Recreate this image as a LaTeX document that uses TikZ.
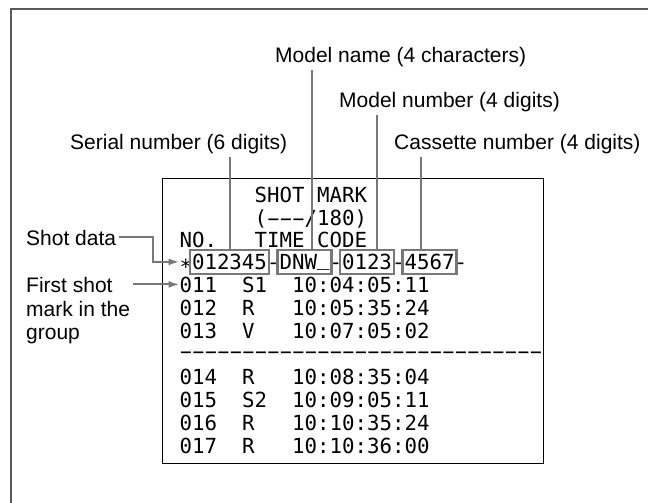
\documentclass[tikz,border=0pt]{standalone}
\usepackage{fontspec}
\setmainfont{Liberation Sans}
\setmonofont{DejaVu Sans Mono}
\usetikzlibrary{arrows.meta,positioning,calc}
\definecolor{Frame}{HTML}{5A5A5A}
\definecolor{Lead}{HTML}{787878}
\newcommand{\lcddash}{\makebox[0.602em][c]{\scalebox{1.9}[1]{-}}}
\tikzset{
  callout/.style={font=\fontsize{21}{23.5}\selectfont,inner sep=3pt,anchor=base west},
  lcd/.style={font=\ttfamily\fontsize{20.76}{22}\selectfont,inner sep=0pt,text height=15.2pt,text depth=0pt,anchor=base west},
  field/.style={lcd,anchor=base,draw=Lead,line width=2.2pt,inner xsep=2pt,inner ysep=4.6pt},
  screen/.style={draw=black,line width=1.2pt,anchor=north west,minimum width=381pt,minimum height=285pt,inner sep=0pt},
  leader/.style={draw=Lead,line width=2pt},
  pointer/.style={-{Latex[length=11pt,width=7pt]},draw=Lead,line width=2pt},
  frame/.style={draw=Frame,line width=2pt}
}
\begin{document}
\begin{tikzpicture}[x=1pt,y=-1pt]
  \useasboundingbox (0,0) rectangle (648,503);
  \draw[frame] (11,503) |- (648,9);
  \node[screen] (screen) at (162,178) {};
  % callouts
  \node[callout] (lname) at (272,62.5) {Model name (4 characters)};
  \node[callout] (lnum) at (336,107.5) {Model number (4 digits)};
  \node[callout] (lser) at (67,149.5) {Serial number (6 digits)};
  \node[callout] (lcas) at (391,149.5) {Cassette number (4 digits)};
  \node[callout] (lshot) at (23,245) {Shot data};
  \node[callout,anchor=north west,align=left] (lfirst) at (23,274.5) {First shot\\mark in the\\group};
  % screen rows
  \node[lcd] (title) at (179.5,202.5) {~~~~~~SHOT~MARK};
  \node[lcd] (count) at (179.5,225) {~~~~~~(\lcddash\lcddash\lcddash/180)};
  \node[lcd] (head) at (179.5,247.5) {NO.~~~TIME~CODE};
  \node[lcd] (star) at (179.5,269.5) {\smash{\raisebox{-4.5pt}{*}}};
  \node[field] (ser) at (229.5,269.5) {012345};
  \node[lcd] (d1) at (267,269.5) {-};
  \node[field] (mname) at (304.5,269.5) {DNW\raisebox{4pt}{\_}};
  \node[lcd] (d2) at (329.5,269.5) {-};
  \node[field] (mnum) at (367,269.5) {0123};
  \node[lcd] (d3) at (392,269.5) {-};
  \node[field] (cas) at (429.5,269.5) {4567};
  \node[lcd] (d4) at (454.5,269.5) {-};
  \node[lcd] (r011) at (179.5,292) {011~~S1~~10:04:05:11};
  \node[lcd] (r012) at (179.5,315) {012~~R~~~10:05:35:24};
  \node[lcd] (r013) at (179.5,338) {013~~V~~~10:07:05:02};
  \node[lcd] (rsep) at (179.5,358) {\foreach \i in {1,...,29}{\lcddash}};
  \node[lcd] (r014) at (179.5,384) {014~~R~~~10:08:35:04};
  \node[lcd] (r015) at (179.5,407) {015~~S2~~10:09:05:11};
  \node[lcd] (r016) at (179.5,430) {016~~R~~~10:10:35:24};
  \node[lcd] (r017) at (179.5,453) {017~~R~~~10:10:36:00};
  % leaders
  \draw[leader] (ser.north |- lser.south) -- (ser.north);
  \draw[leader] ([xshift=7.5pt]mname.north |- lname.south) -- ([xshift=7.5pt]mname.north);
  \draw[leader] ([xshift=10pt]mnum.north |- lnum.south) -- ([xshift=10pt]mnum.north);
  \draw[leader] ([xshift=-8.5pt]cas.north |- lcas.south) -- ([xshift=-8.5pt]cas.north);
  \draw[pointer] (lshot.east) -| ([xshift=-26.5pt]star.west) -- (star.west);
  \draw[pointer] (lfirst.east |- r011.west) -- (r011.west);
\end{tikzpicture}
\end{document}
